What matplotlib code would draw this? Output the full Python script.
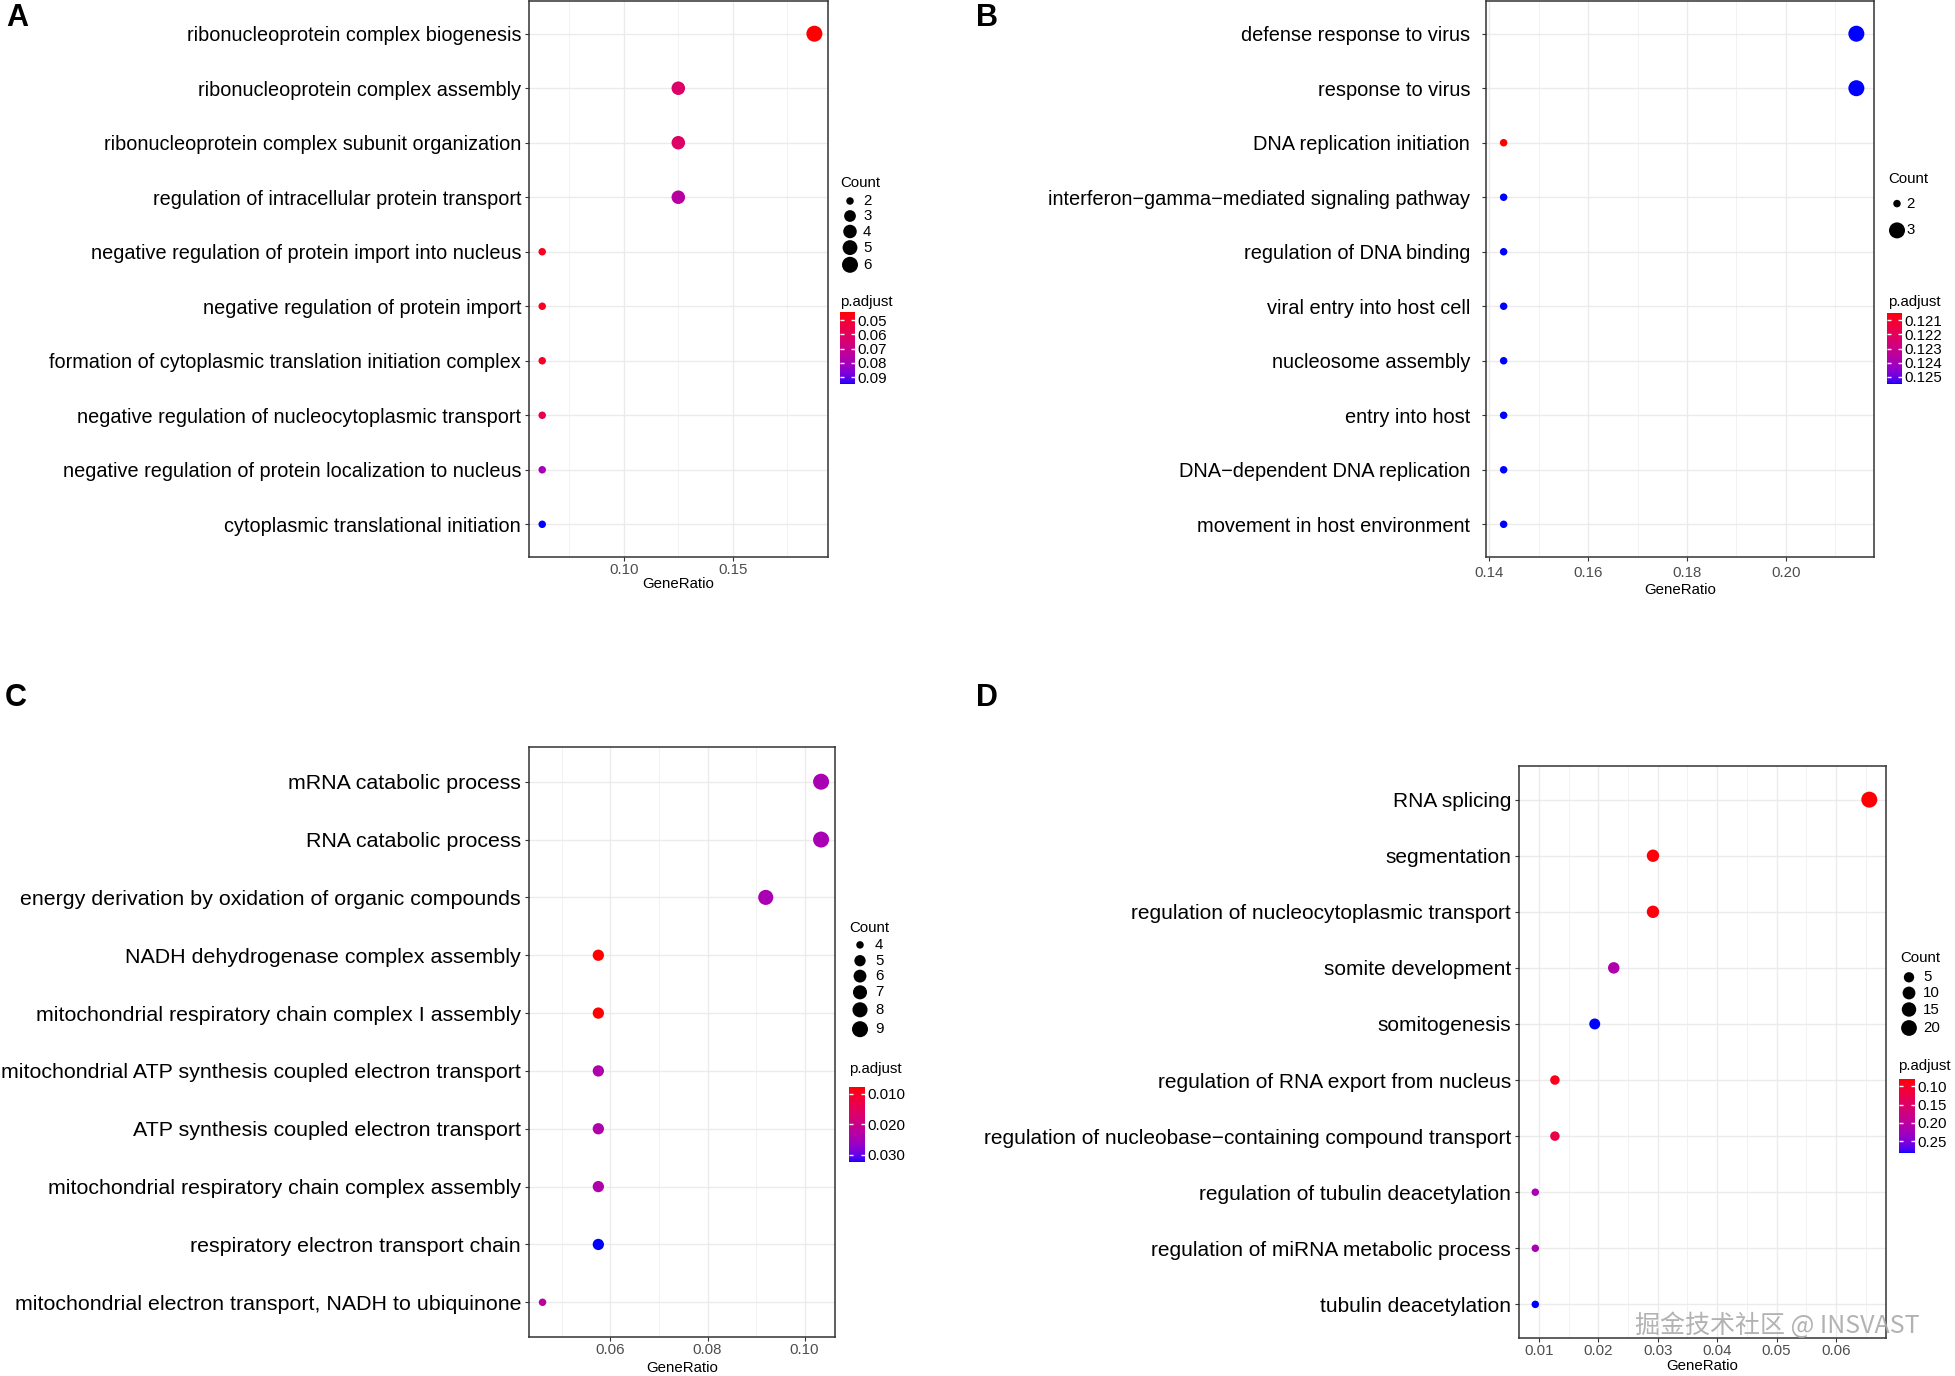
"""
Four-panel GO enrichment dot plots (A-D), clusterProfiler style.

GeneRatio on x, GO term on y, dot size = Count, dot colour = p.adjust.
"""

import matplotlib

matplotlib.use("Agg")

import matplotlib.pyplot as plt
import numpy as np
from matplotlib.cm import ScalarMappable
from matplotlib.colors import ListedColormap, Normalize
from matplotlib.ticker import MultipleLocator


# ---------------------------------------------------------------------
# Data
# ---------------------------------------------------------------------

A_TERMS = [
    "ribonucleoprotein complex biogenesis",
    "ribonucleoprotein complex assembly",
    "ribonucleoprotein complex subunit organization",
    "regulation of intracellular protein transport",
    "negative regulation of protein import into nucleus",
    "negative regulation of protein import",
    "formation of cytoplasmic translation initiation complex",
    "negative regulation of nucleocytoplasmic transport",
    "negative regulation of protein localization to nucleus",
    "cytoplasmic translational initiation",
]
A_GENE_RATIO = [0.1875, 0.125, 0.125, 0.125, 0.0625, 0.0625, 0.0625, 0.0625, 0.0625, 0.0625]
A_COUNT = [6, 4, 4, 4, 2, 2, 2, 2, 2, 2]
A_P_ADJUST = [0.0443, 0.062, 0.062, 0.075, 0.048, 0.048, 0.049, 0.057, 0.080, 0.0949]
A_COUNT_BREAKS = [2, 3, 4, 5, 6]
A_P_BREAKS = [0.05, 0.06, 0.07, 0.08, 0.09]
A_P_LABELS = ["0.05", "0.06", "0.07", "0.08", "0.09"]
A_X_TICKS = [0.10, 0.15]
A_X_LABELS = ["0.10", "0.15"]

B_TERMS = [
    "defense response to virus",
    "response to virus",
    "DNA replication initiation",
    "interferon\u2212gamma\u2212mediated signaling pathway",
    "regulation of DNA binding",
    "viral entry into host cell",
    "nucleosome assembly",
    "entry into host",
    "DNA\u2212dependent DNA replication",
    "movement in host environment",
]
B_GENE_RATIO = [0.2143, 0.2143, 0.1429, 0.1429, 0.1429, 0.1429, 0.1429, 0.1429, 0.1429, 0.1429]
B_COUNT = [3, 3, 2, 2, 2, 2, 2, 2, 2, 2]
B_P_ADJUST = [0.1255, 0.1255, 0.1205, 0.1255, 0.1255, 0.1255, 0.1255, 0.1255, 0.1255, 0.1255]
B_COUNT_BREAKS = [2, 3]
B_P_BREAKS = [0.121, 0.122, 0.123, 0.124, 0.125]
B_P_LABELS = ["0.121", "0.122", "0.123", "0.124", "0.125"]
B_X_TICKS = [0.14, 0.16, 0.18, 0.20]
B_X_LABELS = ["0.14", "0.16", "0.18", "0.20"]

C_TERMS = [
    "mRNA catabolic process",
    "RNA catabolic process",
    "energy derivation by oxidation of organic compounds",
    "NADH dehydrogenase complex assembly",
    "mitochondrial respiratory chain complex I assembly",
    "mitochondrial ATP synthesis coupled electron transport",
    "ATP synthesis coupled electron transport",
    "mitochondrial respiratory chain complex assembly",
    "respiratory electron transport chain",
    "mitochondrial electron transport, NADH to ubiquinone",
]
C_GENE_RATIO = [0.1034, 0.1034, 0.0920, 0.0575, 0.0575, 0.0575, 0.0575, 0.0575, 0.0575, 0.0460]
C_COUNT = [9, 9, 8, 5, 5, 5, 5, 5, 5, 4]
C_P_ADJUST = [0.0245, 0.0245, 0.0245, 0.0077, 0.0077, 0.0238, 0.0238, 0.0238, 0.0324, 0.0225]
C_COUNT_BREAKS = [4, 5, 6, 7, 8, 9]
C_P_BREAKS = [0.010, 0.020, 0.030]
C_P_LABELS = ["0.010", "0.020", "0.030"]
C_X_TICKS = [0.06, 0.08, 0.10]
C_X_LABELS = ["0.06", "0.08", "0.10"]

D_TERMS = [
    "RNA splicing",
    "segmentation",
    "regulation of nucleocytoplasmic transport",
    "somite development",
    "somitogenesis",
    "regulation of RNA export from nucleus",
    "regulation of nucleobase\u2212containing compound transport",
    "regulation of tubulin deacetylation",
    "regulation of miRNA metabolic process",
    "tubulin deacetylation",
]
D_GENE_RATIO = [0.0656, 0.0292, 0.0292, 0.0226, 0.0194, 0.0127, 0.0127, 0.0094, 0.0094, 0.0094]
D_COUNT = [21, 9, 9, 7, 6, 4, 4, 3, 3, 3]
D_P_ADJUST = [0.0805, 0.084, 0.084, 0.211, 0.2815, 0.090, 0.125, 0.218, 0.218, 0.2815]
D_COUNT_BREAKS = [5, 10, 15, 20]
D_P_BREAKS = [0.10, 0.15, 0.20, 0.25]
D_P_LABELS = ["0.10", "0.15", "0.20", "0.25"]
D_X_TICKS = [0.01, 0.02, 0.03, 0.04, 0.05, 0.06]
D_X_LABELS = ["0.01", "0.02", "0.03", "0.04", "0.05", "0.06"]


# ---------------------------------------------------------------------
# Figure settings
# ---------------------------------------------------------------------

FIG_W, FIG_H, DPI = 1955, 1376, 100
FONT = "Liberation Sans"
GRID_COLOR = "#EBEBEB"
BORDER_COLOR = "#333333"
TICK_TEXT = "#4D4D4D"
SMALL_TEXT = 10.8

plt.rcParams["font.family"] = [FONT, "DejaVu Sans"]


def lab_gradient(low_rgb, high_rgb, n=256):
    """Red -> blue ramp interpolated in CIELAB, as ggplot2 does."""

    white = np.array([0.95047, 1.0, 1.08883])
    to_xyz = np.array(
        [[0.4124, 0.3576, 0.1805], [0.2126, 0.7152, 0.0722], [0.0193, 0.1192, 0.9505]]
    )

    def to_lab(rgb):
        rgb = np.asarray(rgb, float)
        lin = np.where(rgb <= 0.04045, rgb / 12.92, ((rgb + 0.055) / 1.055) ** 2.4)
        xyz = to_xyz @ lin / white
        f = np.where(xyz > 0.008856, np.cbrt(xyz), 7.787 * xyz + 16 / 116)
        return np.array([116 * f[1] - 16, 500 * (f[0] - f[1]), 200 * (f[1] - f[2])])

    def to_rgb(lab):
        fy = (lab[0] + 16) / 116
        f = np.array([fy + lab[1] / 500, fy, fy - lab[2] / 200])
        xyz = np.where(f ** 3 > 0.008856, f ** 3, (f - 16 / 116) / 7.787) * white
        lin = np.clip(np.linalg.inv(to_xyz) @ xyz, 0, 1)
        return np.where(lin <= 0.0031308, 12.92 * lin, 1.055 * lin ** (1 / 2.4) - 0.055)

    lo, hi = to_lab(low_rgb), to_lab(high_rgb)
    colors = [np.clip(to_rgb(lo + (hi - lo) * t), 0, 1) for t in np.linspace(0, 1, n)]
    return ListedColormap(colors)


CMAP = lab_gradient([1, 0, 0], [0, 0, 1])


def px_rect(x0, y0, x1, y1):
    """Pixel box (top-left origin) -> figure fraction rect."""

    return [x0 / FIG_W, 1 - y1 / FIG_H, (x1 - x0) / FIG_W, (y1 - y0) / FIG_H]


def dot_area(count, lo, hi):
    """ggplot-like area scale: diameter 7.5..16 px, area ~ count."""

    frac = (np.asarray(count, float) - lo) / (hi - lo)
    diameter_px = 7.5 + 8.5 * np.sqrt(np.clip(frac, 0, 1))
    return (diameter_px * 72 / DPI) ** 2


# ---------------------------------------------------------------------
# Panels
# ---------------------------------------------------------------------

PANELS = [
    {
        "letter": "A", "letter_xy": (17, 18),
        "terms": A_TERMS, "ratio": A_GENE_RATIO, "count": A_COUNT, "padj": A_P_ADJUST,
        "count_breaks": A_COUNT_BREAKS, "p_breaks": A_P_BREAKS, "p_labels": A_P_LABELS,
        "x_ticks": A_X_TICKS, "x_labels": A_X_LABELS, "minor": 0.025, "term_size": 14.3,
        "box": (528.6, 1.0, 828, 557), "ypad": 2.5, "xpad": 1.5, "labelpad": 0.0,
        "count_title": (840, 183), "count_x": 850, "count_ys": [201, 216, 231.5, 247.6, 264.8],
        "count_label_x": 863, "p_title": (840, 301.6), "bar": (840, 312, 855, 384),
    },
    {
        "letter": "B", "letter_xy": (987, 18),
        "terms": B_TERMS, "ratio": B_GENE_RATIO, "count": B_COUNT, "padj": B_P_ADJUST,
        "count_breaks": B_COUNT_BREAKS, "p_breaks": B_P_BREAKS, "p_labels": B_P_LABELS,
        "x_ticks": B_X_TICKS, "x_labels": B_X_LABELS, "minor": 0.01, "term_size": 14.4,
        "box": (1486, 1.0, 1874, 557), "ypad": 8.5, "xpad": 3.5, "labelpad": 2.5,
        "count_title": (1888, 178.7), "count_x": 1897, "count_ys": [203.6, 230.4],
        "count_label_x": 1906, "p_title": (1888, 302), "bar": (1887, 313, 1902, 384),
    },
    {
        "letter": "C", "letter_xy": (16, 698),
        "terms": C_TERMS, "ratio": C_GENE_RATIO, "count": C_COUNT, "padj": C_P_ADJUST,
        "count_breaks": C_COUNT_BREAKS, "p_breaks": C_P_BREAKS, "p_labels": C_P_LABELS,
        "x_ticks": C_X_TICKS, "x_labels": C_X_LABELS, "minor": 0.01, "term_size": 15.4,
        "box": (528.6, 747, 835, 1337), "ypad": 2.5, "xpad": 1.5, "labelpad": 2.5,
        "count_title": (849, 928), "count_x": 860,
        "count_ys": [944.9, 960.7, 976.1, 992.3, 1009.8, 1029.2],
        "count_label_x": 875, "p_title": (849, 1068.6), "bar": (849, 1087, 865, 1162),
    },
    {
        "letter": "D", "letter_xy": (987, 698),
        "terms": D_TERMS, "ratio": D_GENE_RATIO, "count": D_COUNT, "padj": D_P_ADJUST,
        "count_breaks": D_COUNT_BREAKS, "p_breaks": D_P_BREAKS, "p_labels": D_P_LABELS,
        "x_ticks": D_X_TICKS, "x_labels": D_X_LABELS, "minor": 0.005, "term_size": 15.0,
        "box": (1518.6, 766, 1886, 1338), "ypad": 2.5, "xpad": 1.5, "labelpad": 0.5,
        "count_title": (1900, 957.6), "count_x": 1909, "count_ys": [977.3, 993, 1009.5, 1028],
        "count_label_x": 1923, "p_title": (1898, 1065.7), "bar": (1899, 1079, 1915, 1153),
    },
]


def draw_panel(fig, panel):
    """One dot plot: GeneRatio vs term."""

    ax = fig.add_axes(px_rect(*panel["box"]))

    ratio = np.asarray(panel["ratio"])
    count = np.asarray(panel["count"])
    padj = np.asarray(panel["padj"])
    y_pos = np.arange(len(panel["terms"]), 0, -1)

    ax.scatter(
        ratio, y_pos,
        s=dot_area(count, count.min(), count.max()),
        c=padj, cmap=CMAP, vmin=padj.min(), vmax=padj.max(),
        linewidths=0, zorder=3,
    )

    span = ratio.max() - ratio.min()
    ax.set_xlim(ratio.min() - 0.05 * span, ratio.max() + 0.05 * span)
    ax.set_ylim(0.4, len(panel["terms"]) + 0.6)

    ax.set_yticks(y_pos)
    ax.set_yticklabels(panel["terms"])
    ax.set_xticks(panel["x_ticks"])
    ax.set_xticklabels(panel["x_labels"])
    ax.xaxis.set_minor_locator(MultipleLocator(panel["minor"]))

    ax.tick_params(axis="y", length=2.9, width=0.8, color=BORDER_COLOR,
                   pad=panel["ypad"], labelsize=panel["term_size"], labelcolor="black")
    ax.tick_params(axis="x", which="major", length=2.9, width=0.8, color=BORDER_COLOR,
                   pad=panel["xpad"], labelsize=SMALL_TEXT, labelcolor=TICK_TEXT)
    ax.tick_params(which="minor", length=0)

    ax.set_xlabel("GeneRatio", fontsize=SMALL_TEXT, labelpad=panel["labelpad"])

    ax.set_axisbelow(True)
    ax.grid(which="major", color=GRID_COLOR, linewidth=1.0)
    ax.grid(which="minor", axis="x", color="#F0F0F0", linewidth=0.6)
    for spine in ax.spines.values():
        spine.set_color(BORDER_COLOR)
        spine.set_linewidth(1.1)

    return ax


def draw_legends(fig, overlay, panel):
    """Count size key and p.adjust colour bar to the right of a panel."""

    count = np.asarray(panel["count"])
    padj = np.asarray(panel["padj"])

    tx, ty = panel["count_title"]
    overlay.text(tx, ty, "Count", fontsize=SMALL_TEXT, ha="left", va="center")
    breaks = np.asarray(panel["count_breaks"])
    overlay.scatter(
        [panel["count_x"]] * len(breaks), panel["count_ys"],
        s=dot_area(breaks, count.min(), count.max()),
        color="black", linewidths=0,
    )
    for value, y in zip(breaks, panel["count_ys"]):
        overlay.text(panel["count_label_x"], y, str(value), fontsize=SMALL_TEXT,
                     ha="left", va="center")

    px, py = panel["p_title"]
    overlay.text(px, py, "p.adjust", fontsize=SMALL_TEXT, ha="left", va="center")

    cax = fig.add_axes(px_rect(*panel["bar"]))
    mappable = ScalarMappable(Normalize(padj.min(), padj.max()), CMAP)
    cbar = fig.colorbar(mappable, cax=cax)
    cbar.outline.set_visible(False)
    cbar.minorticks_off()
    cbar.set_ticks(panel["p_breaks"])
    cbar.set_ticklabels(panel["p_labels"])
    cax.invert_yaxis()
    cax.tick_params(axis="y", which="major", direction="in", length=3, width=1,
                    color="white", left=True, right=True, labelleft=False,
                    labelright=True, pad=2, labelsize=SMALL_TEXT)


def main() -> None:
    fig = plt.figure(figsize=(FIG_W / DPI, FIG_H / DPI), dpi=DPI)

    overlay = fig.add_axes([0, 0, 1, 1], zorder=5)
    overlay.set_xlim(0, FIG_W)
    overlay.set_ylim(FIG_H, 0)
    overlay.axis("off")

    for panel in PANELS:
        draw_panel(fig, panel)
        draw_legends(fig, overlay, panel)
        lx, ly = panel["letter_xy"]
        overlay.text(lx, ly, panel["letter"], fontsize=22, fontweight="bold",
                     ha="center", va="center")

    overlay.text(1777, 1326, "掘金技术社区 @ INSVAST", fontsize=18, color="#AAAAAA",
                 ha="center", va="center", alpha=0.9,
                 family=["Noto Sans CJK SC", "DejaVu Sans"])

    fig.savefig("out.png", dpi=DPI)
    plt.close(fig)


if __name__ == "__main__":
    main()
